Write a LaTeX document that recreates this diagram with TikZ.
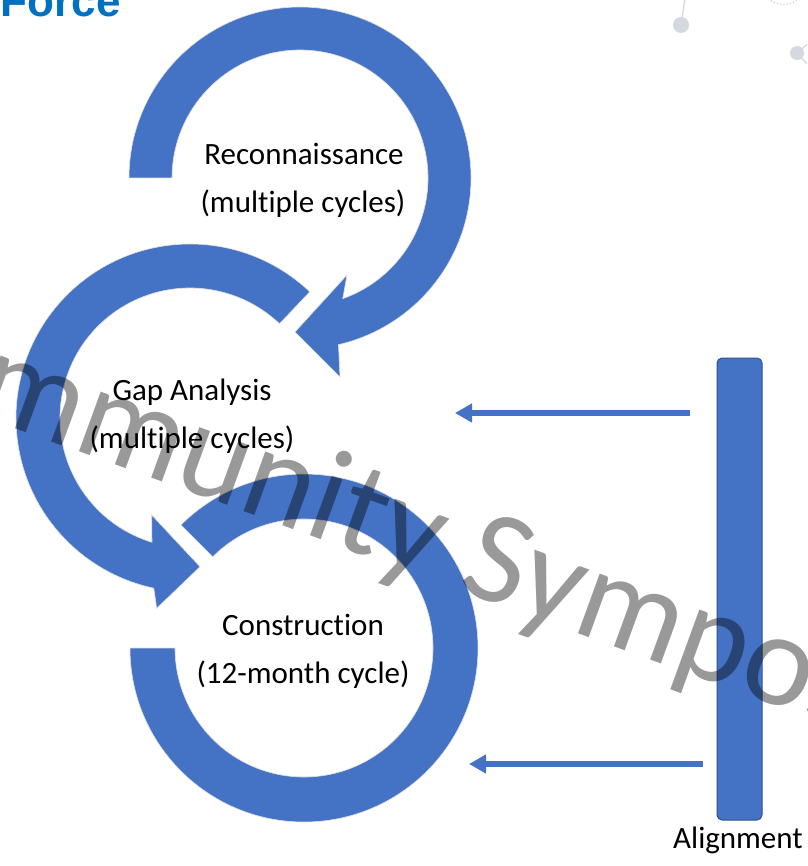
\documentclass[tikz,border=0pt]{standalone}
\usepackage{fontspec}
\setmainfont{Carlito}[Ligatures=CommonOff]
\newfontfamily\forcefont{Liberation Sans}
\usetikzlibrary{calc,arrows.meta}
\definecolor{ppblue}{HTML}{4472C4}
\definecolor{barline}{HTML}{2F528F}
\definecolor{titleblue}{HTML}{0070C0}
\definecolor{deco}{HTML}{D3D9DF}
\begin{document}
\begin{tikzpicture}[x=1pt,y=1pt,
  ring/.style={fill=ppblue, draw=black!12, line width=0.6pt},
  lbl/.style={font=\fontsize{31}{37}\selectfont, inner sep=0pt, anchor=base},
  feed/.style={draw=ppblue, line width=5.5pt, -{Triangle[length=17pt,width=18pt]}},
  decoline/.style={draw=deco, line width=1.3pt},
]
\useasboundingbox (0,0) rectangle (807,-866);
\clip (0,0) rectangle (807,-866);
\fill[white] (0,0) rectangle (807,-866);

% background decorations (top right)
\draw[decoline] (681,-25) -- (685,2);
\fill[deco] (681,-25) circle[radius=8];
\draw[decoline] (797,-53) -- (810,-42);
\draw[decoline] (797,-53) -- (810,-67);
\fill[deco] (797,-53) circle[radius=7];
\draw[decoline, dotted] (783.5,18) circle[radius=22.5];

% title fragment
\node[font=\forcefont\bfseries\fontsize{44}{50}\selectfont, text=titleblue, inner sep=0pt, anchor=base east] (title) at (121,-17) {Force};

% ring 1: Reconnaissance
\coordinate (c1) at (300,-178);
\path[ring] ($(c1)+(180:171)$) arc[start angle=180,end angle=-77,radius=171]
  -- (340,-377) -- (295,-332) -- (347,-275)
  -- ($(c1)+(-70.5:128)$) arc[start angle=-70.5,end angle=180,radius=128] -- cycle;

% ring 2: Gap Analysis
\coordinate (c2) at (190,-418);
\path[ring] ($(c2)+(46.5:174)$) arc[start angle=46.5,end angle=258,radius=174]
  -- (156.7,-608.3) -- (200,-566.7) -- (151.7,-515)
  -- ($(c2)+(253:130)$) arc[start angle=253,end angle=46.5,radius=130] -- cycle;

% ring 3: Construction
\coordinate (c3) at (304,-648);
\path[ring] ($(c3)+(180:174)$) arc[start angle=180,end angle=495,radius=174]
  -- ($(c3)+(135:129)$) arc[start angle=135,end angle=-180,radius=129] -- cycle;

% labels
\node[lbl] (recon) at (304,-165) {Reconnaissance};
\node[lbl] (reconsub) at (303,-213) {(multiple cycles)};
\node[lbl] (gap) at (192,-400) {Gap Analysis};
\node[lbl] (gapsub) at (192,-448) {(multiple cycles)};
\node[lbl] (cons) at (303,-635) {Construction};
\node[lbl] (conssub) at (303,-683) {(12-month cycle)};

% alignment bar
\node[draw=barline, fill=ppblue, line width=1pt, rounded corners=5pt,
      minimum width=45pt, minimum height=462pt, inner sep=0pt] (bar) at (739.5,-589) {};
\node[lbl] (align) at (738,-848) {Alignment};

% feed arrows
\coordinate (a1s) at (690,-413);
\coordinate (a1e) at (455,-413);
\coordinate (a2s) at (703,-764);
\coordinate (a2e) at (469,-764);
\draw[feed] (a1s) -- (a1e);
\draw[feed] (a2s) -- (a2e);

% watermark
\node[font=\fontsize{133}{150}\selectfont, text=black, opacity=0.4, rotate=-20,
      anchor=base west, inner sep=0pt] (wm) at (-162,-364) {Community Symposium};
\end{tikzpicture}
\end{document}
